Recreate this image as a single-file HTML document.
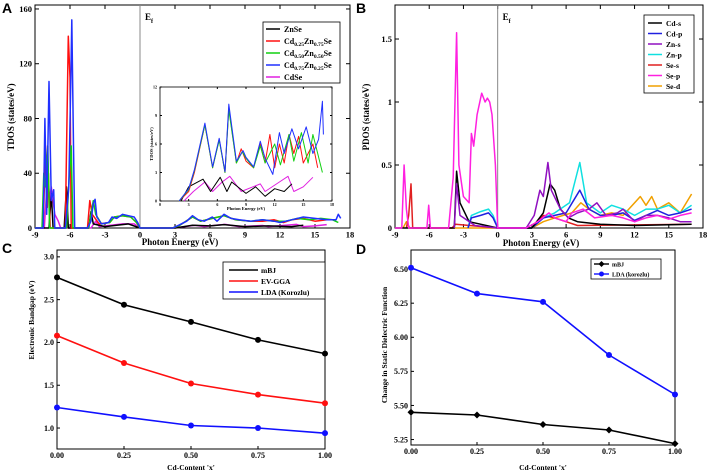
<!DOCTYPE html>
<html><head><meta charset="utf-8"><style>
html,body{margin:0;padding:0;background:#fff}
svg{display:block;font-family:"Liberation Serif",serif;font-weight:bold}
</style></head><body>
<svg id="fig" width="708" height="475" viewBox="0 0 708 475" xmlns="http://www.w3.org/2000/svg"></svg>
<script>
// ---------- DATA ----------
const aTicksX=[-9,-6,-3,0,3,6,9,12,15,18];
const aTicksY=[0,40,80,120,160];
const aZnSe=[[-9,0],[-7.8,0],[-7.6,25],[-7.45,0],[-6.5,0],[-6.3,30],[-6.15,0],[-4.4,0],[-4.2,12],[-4.0,3],[-3,1],[-2,2],[-1,3],[0,0],[3,0],[4.5,2],[6,1.5],[7.2,2.5],[9,1],[11,1.5],[13,1],[14,2]];
const aCd25=[[-9,0],[-8.3,0],[-8.1,60],[-7.95,15],[-7.85,40],[-7.7,0],[-6.4,0],[-6.15,140],[-6.0,110],[-5.9,0],[-4.5,0],[-4.3,20],[-4.1,10],[-3.5,3],[-2.6,4],[-2.2,8],[-1.5,9],[-0.8,8],[-0.3,4],[0,0],[2.8,0],[3.4,2],[4.5,8],[5.2,5],[6.2,7],[7.2,9],[8.2,6],[9.5,5],[10.5,5],[11.5,6],[12.3,4],[13,6],[14,7],[15,5],[16,6],[16.8,6]];
const aCd50=[[-9,0],[-8.4,0],[-8.25,40],[-8.1,30],[-7.9,60],[-7.75,0],[-6.3,0],[-6.05,40],[-5.9,60],[-5.75,0],[-4.4,0],[-4.0,20],[-3.8,10],[-3.3,3],[-2.6,4],[-2.2,8],[-1.5,9],[-0.8,8],[-0.3,4],[0,0],[2.8,0],[3.4,2],[4.5,8],[5.2,5],[6.2,7],[7.2,9],[8.2,6],[9.5,5],[10.5,6],[11.5,5],[12.5,5],[13.5,7],[14.5,6],[15.5,7],[16.5,6],[17,4]];
const aCd75=[[-9,0],[-8.3,0],[-8.15,80],[-8.0,10],[-7.8,107],[-7.6,20],[-7.4,28],[-7.3,0],[-6.4,0],[-6.1,30],[-5.95,100],[-5.85,152],[-5.7,60],[-5.6,0],[-4.5,0],[-4.2,5],[-4.0,18],[-3.85,21],[-3.7,8],[-3.3,3],[-2.7,4],[-2.4,8],[-2.0,7],[-1.5,10],[-1.0,9],[-0.5,8],[-0.2,4],[0,0],[2.8,0],[3.3,2],[4.0,5],[4.5,9],[5.0,6],[5.5,5],[6.2,8],[6.6,5],[7.2,10],[7.8,7],[8.5,6],[9.5,5],[10.5,6],[11.5,5],[12,4],[13,6],[14,8],[15,7],[16,6],[16.8,6],[17.0,10],[17.2,7]];
const aCdSe=[[-9,0],[-8.2,0],[-7.9,40],[-7.75,20],[-7.6,30],[-7.3,10],[-7.0,5],[-6.8,0],[-4.2,0],[-3.8,5],[-3.5,1],[-2.5,2],[-1.5,3],[-0.5,3],[0,0],[3,0],[4.7,2],[5.5,1],[6.5,2],[7.3,2.6],[8.5,1],[10.5,1.8],[11,1],[12.5,2],[13.4,2.6],[14,1],[15,1.5],[16,2.5]];
const inTicksX=[0,3,6,9,12,15,18];
const inTicksY=[0,3,6,9,12];
const inZnSe=[[2.2,0],[3,1.5],[4.5,2.3],[5.3,1],[6.3,2.5],[7,1],[7.5,2],[9,0.8],[10,1.5],[11,0.5],[12,1.3],[13,1],[13.8,1.8]];
const inCd25=[[2,0],[3,1],[3.6,3],[4.7,8],[5.5,3.5],[6.2,6.5],[6.8,3],[7.2,9.8],[8,4],[8.5,5.5],[9,4.2],[9.8,3.5],[10.5,6],[11,4],[11.5,7],[12,3.5],[12.5,6],[13,4],[13.5,7],[14,5],[14.5,6.8],[15,4],[16,6],[16.5,3.5]];
const inCd50=[[2,0],[3,1.2],[3.6,3.2],[4.7,8],[5.5,3.5],[6.2,6.4],[6.8,3],[7.2,9.6],[8,4],[8.6,5.2],[9,4.5],[9.8,3.5],[10.5,5.8],[11,4],[12,6],[12.6,3.8],[13.5,7],[14,4.2],[14.8,7.2],[15.5,4],[16,7],[16.5,5],[17,3]];
const inCd75=[[2,0],[3,1.3],[3.6,3.3],[4.7,8.2],[5.5,3.6],[6.2,6.6],[6.8,3.1],[7.2,10.2],[8,4.2],[8.7,5.3],[9,4.6],[9.8,3.6],[10.5,6.3],[11,4.5],[11.8,2.8],[12.5,7.2],[13,5],[13.8,7.6],[14.5,5.5],[15.3,7.8],[16,5],[16.6,6.5],[17,10.5],[17.1,7]];
const inCdSe=[[2.5,0],[3.5,1],[4.7,2],[5.5,1],[6.5,2],[7.3,2.6],[8.5,1],[10.5,1.8],[11,1],[12.5,2],[13.4,2.6],[14,1],[15,1.5],[16,2.5]];
const bTicksX=[-9,-6,-3,0,3,6,9,12,15,18];
const bTicksY=[0,0.5,1,1.5];
const bCds=[[-9,0],[-3.8,0],[-3.6,0.45],[-3.3,0.2],[-2.5,0.05],[0,0],[3,0],[4,0.12],[4.6,0.35],[5,0.3],[5.5,0.15],[6.2,0.08],[7,0.05],[9,0.03],[12,0.02],[17,0.03]];
const bCdp=[[-2.6,0],[-2.3,0.08],[-1.5,0.1],[-0.8,0.12],[-0.4,0.08],[0,0],[3,0],[4,0.08],[5,0.1],[6,0.12],[7.2,0.3],[8,0.15],[9,0.1],[10,0.1],[11,0.12],[12,0.06],[13,0.1],[14,0.14],[15,0.1],[16,0.12],[17,0.15]];
const bZns=[[-3.8,0],[-3.6,0.35],[-3.3,0.1],[-2,0.02],[0,0],[2.5,0],[3.2,0.1],[3.7,0.3],[4.0,0.25],[4.4,0.52],[4.7,0.3],[5.5,0.15],[6.2,0.08],[7,0.12],[8,0.15],[8.7,0.2],[9.5,0.1],[10.5,0.12],[11,0.15],[12,0.05],[13,0.1],[14,0.1],[15,0.08],[16,0.05],[17,0.05]];
const bZnp=[[-2.6,0],[-2.3,0.1],[-1.5,0.13],[-0.8,0.15],[-0.4,0.1],[0,0],[3,0],[4,0.08],[5,0.12],[6.3,0.2],[7.2,0.52],[7.8,0.2],[9,0.12],[10,0.18],[11,0.15],[12,0.1],[13,0.15],[14,0.15],[15,0.18],[16,0.12],[17,0.18]];
const bSes=[[-8,0],[-7.8,0.1],[-7.6,0.35],[-7.45,0],[-4,0],[-3.7,0.03],[0,0],[3,0],[4,0.1],[5,0.08],[6,0.05],[7,0.02],[17,0.03]];
const bSep=[[-9,0],[-8.4,0],[-8.2,0.5],[-8.0,0.15],[-7.8,0],[-6.2,0],[-6.05,0.18],[-5.9,0],[-4.3,0],[-3.9,0.4],[-3.6,1.55],[-3.4,0.5],[-3.0,0.25],[-2.5,0.2],[-2.3,0.75],[-2.1,0.65],[-1.8,0.9],[-1.4,1.07],[-1.1,1.0],[-0.9,1.03],[-0.7,1.0],[-0.5,0.9],[-0.2,0.5],[0,0],[2.5,0],[3.5,0.05],[4.5,0.12],[5,0.08],[6,0.05],[6.5,0.12],[7.5,0.15],[8.5,0.08],[10,0.1],[11,0.08],[12,0.05],[13,0.08],[14,0.1],[15,0.07],[16,0.1],[17,0.12]];
const bSed=[[-8.3,0],[-8,0.05],[-7.7,0],[3,0],[4,0.05],[5,0.08],[6.5,0.12],[7.3,0.2],[8,0.15],[9,0.1],[10,0.12],[11,0.1],[12.5,0.25],[13,0.18],[13.5,0.25],[14,0.15],[15,0.2],[16,0.12],[17,0.27]];
const cxCats=[0,0.25,0.5,0.75,1];
const cxLabels=["0.00","0.25","0.50","0.75","1.00"];
const cTicksY=[1.0,1.5,2.0,2.5,3.0];
const cMBJ=[2.76,2.44,2.24,2.03,1.87];
const cEVGGA=[2.08,1.76,1.52,1.39,1.29];
const cLDA=[1.24,1.13,1.03,1.00,0.94];
const dTicksY=[5.25,5.5,5.75,6.0,6.25,6.5];
const dMBJ=[5.45,5.43,5.36,5.32,5.22];
const dLDA=[6.51,6.32,6.26,5.87,5.58];

// ---------- DRAW ----------
const S='http://www.w3.org/2000/svg';
const svg=document.getElementById('fig');
function mk(tag,attrs,parent){const e=document.createElementNS(S,tag);for(const k in attrs)e.setAttribute(k,attrs[k]);(parent||svg).appendChild(e);return e;}
function txt(x,y,s,size,anchor,parent,rot){const t=mk('text',{x:x,y:y,'font-size':size,'text-anchor':anchor||'middle'},parent);if(rot)t.setAttribute('transform','rotate(-90 '+x+' '+y+')');t.textContent=s;return t;}
function panel(name,L,R,T,B,x0,x1,y0,y1){
  const g=mk('g',{});
  
  
  const sx=v=>L+(v-x0)/(x1-x0)*(R-L), sy=v=>B-(v-y0)/(y1-y0)*(B-T);
  return {g,sx,sy,L,R,T,B};
}
function frame(p,name){const r=mk('rect',{x:p.L,y:p.T,width:p.R-p.L,height:p.B-p.T,fill:'none',stroke:'#000','stroke-width':1},p.g);}
function line(p,pts,color,name,w){const d=pts.map(q=>p.sx(q[0]).toFixed(1)+','+p.sy(q[1]).toFixed(1)).join(' ');const e=mk('polyline',{points:d,fill:'none',stroke:color,'stroke-width':w||1.5,'stroke-linejoin':'round'},p.g);return e;}
function xt(p,ticks,labels,size,len,both){ticks.forEach((v,i)=>{const x=p.sx(v);mk('line',{x1:x,x2:x,y1:p.B,y2:p.B-len,stroke:'#000'},p.g);if(both)mk('line',{x1:x,x2:x,y1:p.T,y2:p.T+len,stroke:'#000'},p.g);const t=txt(x,p.B+size+1,labels[i],size,'middle',p.g);});}
function yt(p,ticks,labels,size,len,both){ticks.forEach((v,i)=>{const y=p.sy(v);mk('line',{x1:p.L,x2:p.L+len,y1:y,y2:y,stroke:'#000'},p.g);if(both)mk('line',{x1:p.R,x2:p.R-len,y1:y,y2:y,stroke:'#000'},p.g);const t=txt(p.L-3,y+size*0.35,labels[i],size,'end',p.g);});}
function legendLine(g,x,y,color,label,size,sub){mk('line',{x1:x,x2:x+14,y1:y,y2:y,stroke:color,'stroke-width':1.5},g);const t=mk('text',{x:x+18,y:y+3,'font-size':size},g);if(sub){sub.forEach(s=>{const ts=mk('tspan',s[1]?{'font-size':size*0.7,dy:2}:{dy:s[2]||0},t);ts.textContent=s[0];});}else t.textContent=label;}
function letter(x,y,s,name){const t=mk('text',{x:x,y:y,'font-size':14,'font-family':'Liberation Sans, sans-serif','font-weight':'bold'});t.textContent=s;}

// Panel A
const A=panel('panel-a-tdos',35,350,5,228,-9,18,0,162.9);
frame(A,'panel-a-frame');
xt(A,aTicksX,aTicksX.map(String),8.5,4,true);
yt(A,aTicksY,aTicksY.map(String),8.5,4,true);
mk('line',{x1:A.sx(0),x2:A.sx(0),y1:A.T,y2:A.B,stroke:'#888'},A.g);
line(A,aCdSe,'#e020e0','series-cdse');
line(A,aZnSe,'#000','series-znse');
line(A,aCd25,'#ff1010','series-cd025');
line(A,aCd50,'#10d010','series-cd050');
line(A,aCd75,'#2030ff','series-cd075');
txt(145,20,'E',9,'start',A.g);
txt(151,23,'f',6,'start',A.g);
txt(14,117,'TDOS (states/eV)',9,'middle',A.g,true);
txt(180,245,'Photon Energy (eV)',9,'middle',A.g);
{const lg=mk('g',{},A.g);
mk('rect',{x:263,y:22,width:77,height:61,fill:'#fff',stroke:'#000','stroke-width':0.8},lg);
legendLine(lg,266,29,'#000','ZnSe',8);
legendLine(lg,266,41,'#ff1010','',8,[['Cd'],['0.25',1],['Zn',0,-2],['0.75',1],['Se',0,-2]]);
legendLine(lg,266,53,'#10d010','',8,[['Cd'],['0.50',1],['Zn',0,-2],['0.50',1],['Se',0,-2]]);
legendLine(lg,266,65,'#2030ff','',8,[['Cd'],['0.75',1],['Zn',0,-2],['0.25',1],['Se',0,-2]]);
legendLine(lg,266,77,'#e020e0','CdSe',8);}
// Inset
const I=panel('inset-tdos',160,332,87,201,0,18,0,12);
mk('rect',{x:160,y:87,width:172,height:114,fill:'#fff',stroke:'#000','stroke-width':0.8},I.g);
xt(I,inTicksX,inTicksX.map(String),4,2,true);
yt(I,inTicksY,inTicksY.map(String),4,2,true);
line(I,inCdSe,'#e020e0','inset-cdse',1);
line(I,inZnSe,'#000','inset-znse',1);
line(I,inCd25,'#ff1010','inset-cd025',1);
line(I,inCd50,'#10d010','inset-cd050',1);
line(I,inCd75,'#2030ff','inset-cd075',1);
txt(246,210,'Photon Energy (eV)',4.5,'middle',I.g);
txt(153,144,'TDOS (states/eV)',4.5,'middle',I.g,true);

// Panel B
const Bp=panel('panel-b-pdos',395,703,5,228,-9,18,0,1.77);
frame(Bp,'panel-b-frame');
xt(Bp,bTicksX,bTicksX.map(String),8.5,4,true);
yt(Bp,bTicksY,['0','0.5','1','1.5'],8.5,4,true);
mk('line',{x1:Bp.sx(0),x2:Bp.sx(0),y1:Bp.T,y2:Bp.B,stroke:'#888'},Bp.g);
line(Bp,bSed,'#f0a000','series-se-d');
line(Bp,bSes,'#e02020','series-se-s');
line(Bp,bZnp,'#10e0e0','series-zn-p');
line(Bp,bCdp,'#2020e0','series-cd-p');
line(Bp,bCds,'#000','series-cd-s');
line(Bp,bZns,'#9010c0','series-zn-s');
line(Bp,bSep,'#ff20e0','series-se-p');
txt(Bp.sx(0)+5,20,'E',9,'start',Bp.g);
txt(Bp.sx(0)+11,23,'f',6,'start',Bp.g);
txt(369,117,'PDOS (states/eV)',9,'middle',Bp.g,true);
txt(541,246,'Photon Energy (eV)',9,'middle',Bp.g);
{const lg=mk('g',{},Bp.g);
mk('rect',{x:644,y:15,width:50,height:78,fill:'#fff',stroke:'#000','stroke-width':0.8},lg);
[['Cd-s','#000'],['Cd-p','#2020e0'],['Zn-s','#9010c0'],['Zn-p','#10e0e0'],['Se-s','#e02020'],['Se-p','#ff20e0'],['Se-d','#f0a000']].forEach((e,i)=>legendLine(lg,648,23+i*10.5,e[1],e[0],7.5));}

// Panel C
const C=panel('panel-c-bandgap',57,325,250,449,0,1,0.755,3.08);
frame(C,'panel-c-frame');
xt(C,cxCats,cxLabels,8,3,false);
yt(C,cTicksY,cTicksY.map(v=>v.toFixed(1)),8,3,false);
function series(p,vals,color,name,marker){line(p,cxCats.map((x,i)=>[x,vals[i]]),color,name,1.6);vals.forEach((v,i)=>{let m;if(marker==='d'){const x=p.sx(cxCats[i]),y=p.sy(v);m=mk('polygon',{points:`${x},${y-3.5} ${x+3.5},${y} ${x},${y+3.5} ${x-3.5},${y}`,fill:color},p.g);}else m=mk('circle',{cx:p.sx(cxCats[i]),cy:p.sy(v),r:3,fill:color},p.g);});}
series(C,cMBJ,'#000','series-mbj-c');
series(C,cEVGGA,'#ff1010','series-evgga');
series(C,cLDA,'#1010ff','series-lda-c');
txt(34,320,'Electronic Bandgap (eV)',7.5,'middle',C.g,true);
txt(191,470,"Cd-Content 'x'",7.5,'middle',C.g);
{const lg=mk('g',{},C.g);
mk('rect',{x:223,y:262,width:102,height:37,fill:'#fff',stroke:'#000','stroke-width':0.8},lg);
[['mBJ','#000'],['EV-GGA','#ff1010'],['LDA (Korozlu)','#1010ff']].forEach((e,i)=>{mk('line',{x1:229,x2:258,y1:270+i*11,y2:270+i*11,stroke:e[1],'stroke-width':1.6},lg);const t=txt(261,273+i*11,e[0],7.5,'start',lg);});}

// Panel D
const D=panel('panel-d-dielectric',411,675,250,445,0,1,5.21,6.64);
frame(D,'panel-d-frame');
xt(D,cxCats,cxLabels,8,3,false);
yt(D,dTicksY,dTicksY.map(v=>v.toFixed(2)),8,3,false);
series(D,dMBJ,'#000','series-mbj-d','d');
series(D,dLDA,'#1010ff','series-lda-d');
txt(387,345,'Change in Static Dielectric Function',7.5,'middle',D.g,true);
txt(543,470,"Cd-Content 'x'",7.5,'middle',D.g);
{const lg=mk('g',{},D.g);
mk('rect',{x:591,y:259,width:70,height:20,fill:'#fff',stroke:'#000','stroke-width':0.8},lg);
mk('line',{x1:594,x2:609,y1:264,y2:264,stroke:'#000','stroke-width':1.4},lg);
mk('polygon',{points:'601.5,261 604.5,264 601.5,267 598.5,264',fill:'#000'},lg);
txt(612,266.5,'mBJ',6,'start',lg);
mk('line',{x1:594,x2:609,y1:274,y2:274,stroke:'#1010ff','stroke-width':1.4},lg);
mk('circle',{cx:601.5,cy:274,r:2.5,fill:'#1010ff'},lg);
txt(612,276.5,'LDA (korozlu)',6,'start',lg);}

letter(2,13,'A','panel-letter-a');
letter(356,13,'B','panel-letter-b');
letter(2,253,'C','panel-letter-c');
letter(356,254,'D','panel-letter-d');
</script>
</body></html>
